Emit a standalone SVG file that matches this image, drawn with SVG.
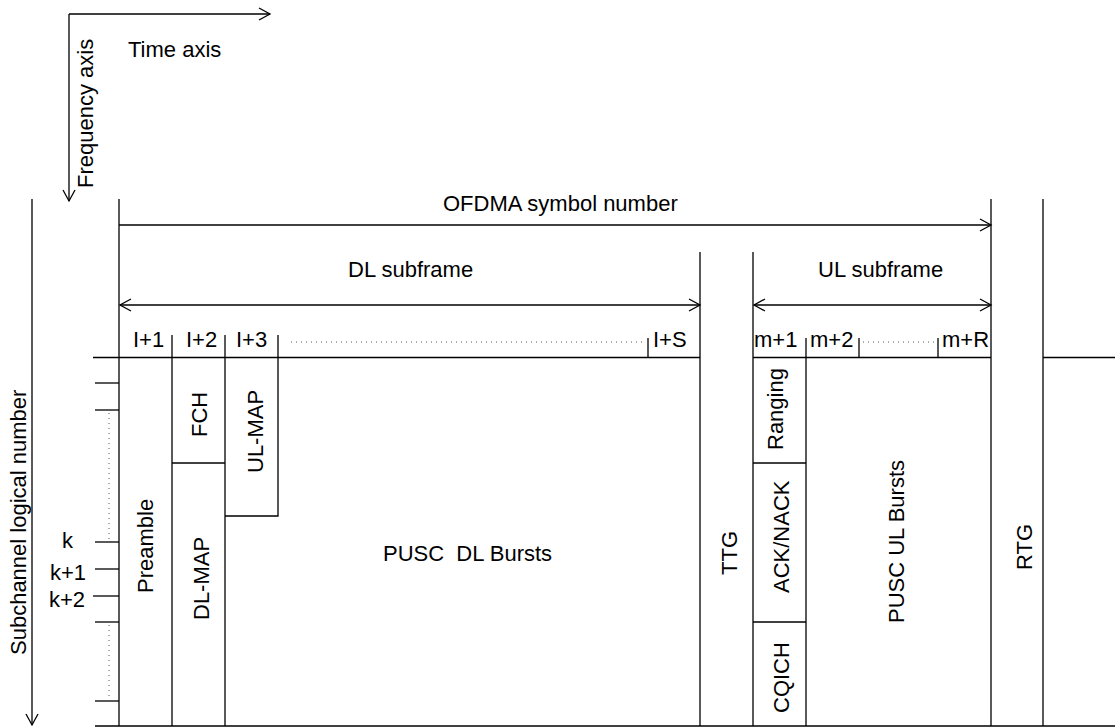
<svg xmlns="http://www.w3.org/2000/svg" width="1115" height="727" viewBox="0 0 1115 727">
<defs>
<style>
text{font-family:"Liberation Sans",Arial,sans-serif;font-size:22px;fill:#000}
.ln{stroke:#000;stroke-width:1.3;fill:none}
.dot{stroke:#555;stroke-width:1;stroke-dasharray:1 4;fill:none}
.arr{stroke:#000;stroke-width:1.3;fill:none;marker-end:url(#ah)}
.arr2{stroke:#000;stroke-width:1.3;fill:none;marker-end:url(#ah);marker-start:url(#ah)}
</style>
<marker id="ah" viewBox="0 0 14 14" markerWidth="14" markerHeight="14" refX="12" refY="7" orient="auto-start-reverse" markerUnits="userSpaceOnUse">
<path d="M1,1 L12,7 L1,13" fill="none" stroke="#000" stroke-width="1.3"/>
</marker>
</defs>
<rect width="1115" height="727" fill="#fff"/>

<g id="connectors">
<line class="arr" x1="69" y1="14" x2="270" y2="14"/>
<line class="arr" x1="69" y1="14" x2="69" y2="201"/>
<line class="arr" x1="32" y1="199" x2="32" y2="725"/>
<line class="arr" x1="119" y1="225" x2="991" y2="225"/>
<line class="arr2" x1="120" y1="305" x2="700" y2="305"/>
<line class="arr2" x1="754" y1="305" x2="991" y2="305"/>
</g>

<g id="axes-labels">
<text x="128" y="57">Time axis</text>
<text transform="translate(93,188) rotate(-90)">Frequency axis</text>
<text transform="translate(26,655) rotate(-90)">Subchannel logical number</text>
<text x="443" y="211">OFDMA symbol number</text>
<text x="348" y="277">DL subframe</text>
<text x="818" y="277">UL subframe</text>
</g>

<g id="frame-lines">
<line class="ln" x1="119" y1="199" x2="119" y2="726"/>
<line class="ln" x1="991" y1="199" x2="991" y2="726"/>
<line class="ln" x1="1043" y1="199" x2="1043" y2="726"/>
<line class="ln" x1="700" y1="252" x2="700" y2="726"/>
<line class="ln" x1="753" y1="252" x2="753" y2="726"/>
<line class="ln" x1="93" y1="357.5" x2="700" y2="357.5"/>
<line class="ln" x1="753" y1="357.5" x2="991" y2="357.5"/>
<line class="ln" x1="1043" y1="357.5" x2="1115" y2="357.5"/>
<line class="ln" x1="95" y1="726" x2="1115" y2="726"/>
</g>

<g id="subchannel-ticks">
<line class="ln" x1="95" y1="383" x2="119" y2="383"/>
<line class="ln" x1="95" y1="410" x2="119" y2="410"/>
<line class="dot" x1="109" y1="413" x2="109" y2="539"/>
<line class="ln" x1="95" y1="542" x2="119" y2="542"/>
<line class="ln" x1="95" y1="569" x2="119" y2="569"/>
<line class="ln" x1="93" y1="596" x2="119" y2="596"/>
<line class="ln" x1="95" y1="622" x2="119" y2="622"/>
<line class="dot" x1="109" y1="625" x2="109" y2="699"/>
<line class="ln" x1="95" y1="701" x2="119" y2="701"/>
<text x="62" y="548">k</text>
<text x="50" y="580">k+1</text>
<text x="49" y="607">k+2</text>
</g>

<g id="symbol-labels-dl">
<text x="133" y="347">I+1</text>
<text x="186" y="347">I+2</text>
<text x="236" y="347">I+3</text>
<line class="dot" x1="291" y1="342" x2="645" y2="342"/>
<line class="ln" x1="648" y1="338" x2="648" y2="357.5"/>
<text x="653" y="347">I+S</text>
</g>

<g id="preamble">
<line class="ln" x1="172" y1="335" x2="172" y2="726"/>
<text transform="translate(153,593) rotate(-90)">Preamble</text>
</g>

<g id="fch">
<line class="ln" x1="225" y1="335" x2="225" y2="726"/>
<line class="ln" x1="172" y1="463" x2="225" y2="463"/>
<text transform="translate(207,437) rotate(-90)">FCH</text>
</g>

<g id="dl-map">
<text transform="translate(209,620) rotate(-90)">DL-MAP</text>
</g>

<g id="ul-map">
<polyline class="ln" points="278,335 278,516 225,516"/>
<text transform="translate(263,473) rotate(-90)">UL-MAP</text>
</g>

<g id="dl-bursts">
<text x="383" y="561" xml:space="preserve">PUSC  DL Bursts</text>
</g>

<g id="ttg">
<text transform="translate(737,575) rotate(-90)">TTG</text>
</g>

<g id="symbol-labels-ul">
<text x="754" y="347">m+1</text>
<line class="ln" x1="806" y1="338" x2="806" y2="726"/>
<text x="810" y="347">m+2</text>
<line class="ln" x1="859" y1="338" x2="859" y2="357.5"/>
<line class="dot" x1="863" y1="342" x2="936" y2="342"/>
<line class="ln" x1="938" y1="338" x2="938" y2="357.5"/>
<text x="942" y="347">m+R</text>
</g>

<g id="ranging">
<line class="ln" x1="753" y1="463" x2="806" y2="463"/>
<text transform="translate(783,450) rotate(-90)">Ranging</text>
</g>

<g id="ack-nack">
<line class="ln" x1="753" y1="622" x2="806" y2="622"/>
<text transform="translate(789,593) rotate(-90)">ACK/NACK</text>
</g>

<g id="cqich">
<text transform="translate(789,713) rotate(-90)">CQICH</text>
</g>

<g id="ul-bursts">
<text transform="translate(904,623) rotate(-90)">PUSC UL Bursts</text>
</g>

<g id="rtg">
<text transform="translate(1032,570) rotate(-90)">RTG</text>
</g>
</svg>
